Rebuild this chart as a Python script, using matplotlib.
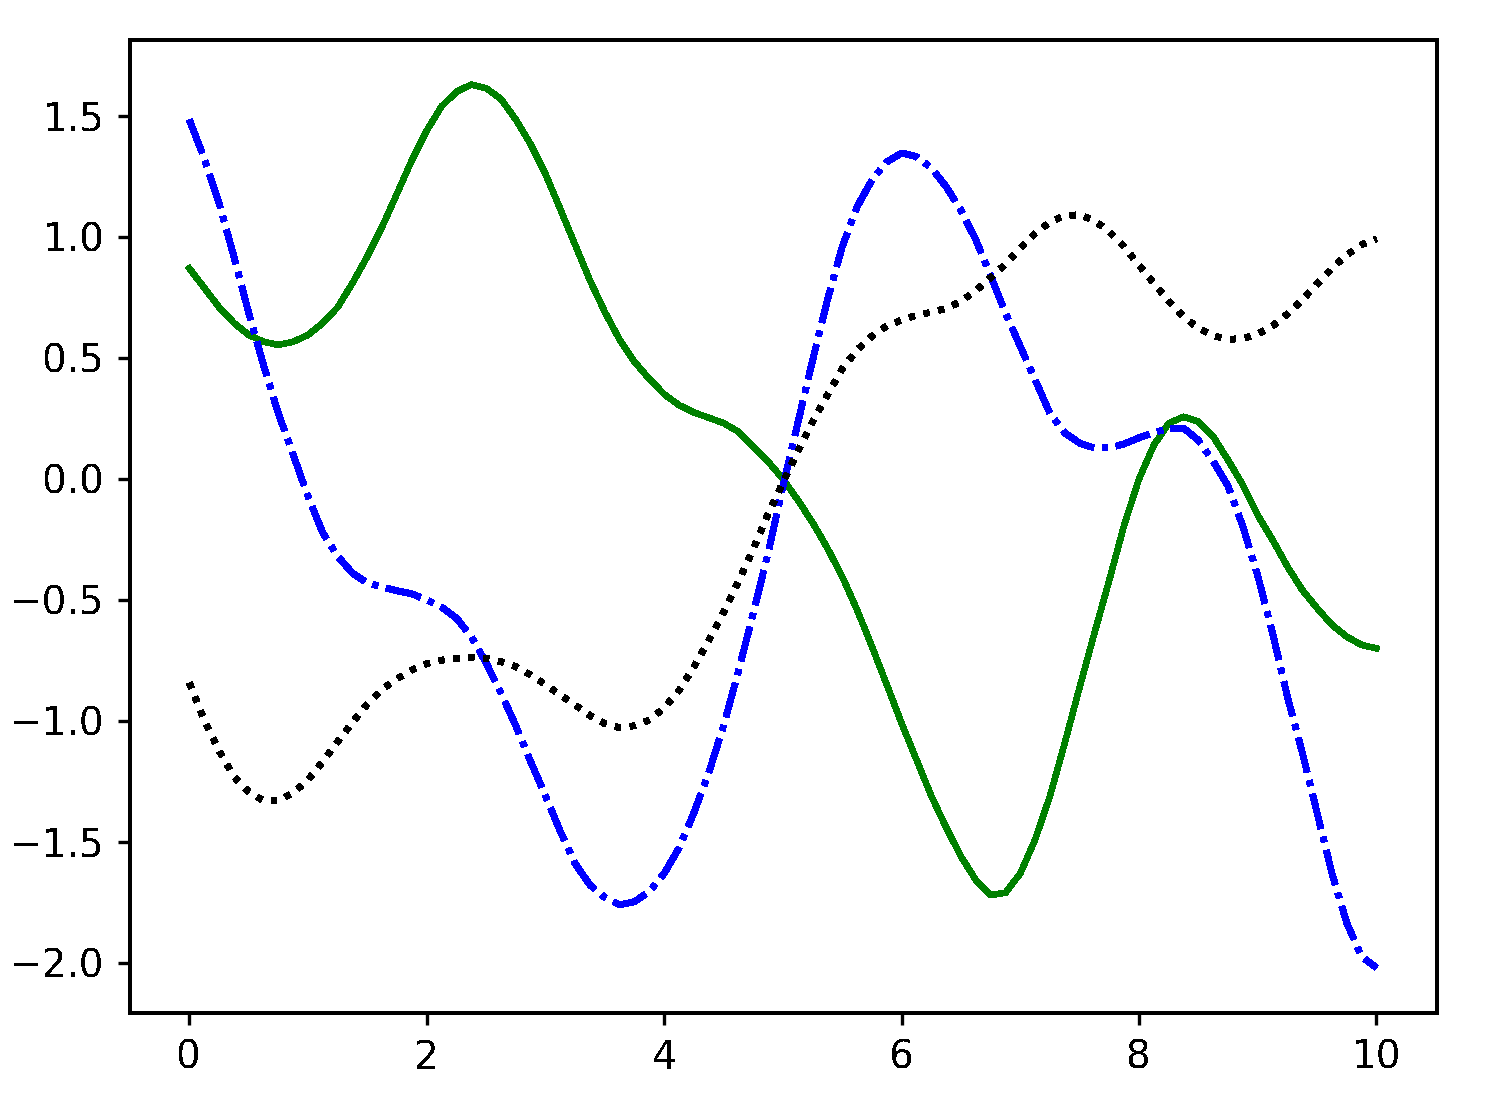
import matplotlib
matplotlib.use("Agg")
import matplotlib.pyplot as plt

# sample positions along x, every 0.125
X = [0.0, 0.125, 0.25, 0.375, 0.5, 0.625, 0.75, 0.875,
     1.0, 1.125, 1.25, 1.375, 1.5, 1.625, 1.75, 1.875,
     2.0, 2.125, 2.25, 2.375, 2.5, 2.625, 2.75, 2.875,
     3.0, 3.125, 3.25, 3.375, 3.5, 3.625, 3.75, 3.875,
     4.0, 4.125, 4.25, 4.375, 4.5, 4.625, 4.75, 4.875,
     5.0, 5.125, 5.25, 5.375, 5.5, 5.625, 5.75, 5.875,
     6.0, 6.125, 6.25, 6.375, 6.5, 6.625, 6.75, 6.875,
     7.0, 7.125, 7.25, 7.375, 7.5, 7.625, 7.75, 7.875,
     8.0, 8.125, 8.25, 8.375, 8.5, 8.625, 8.75, 8.875,
     9.0, 9.125, 9.25, 9.375, 9.5, 9.625, 9.75, 9.875, 10.0]

GREEN = [0.87, 0.79, 0.71, 0.645, 0.595, 0.567, 0.554, 0.567,
         0.595, 0.645, 0.71, 0.81, 0.92, 1.043, 1.18, 1.318,
         1.44, 1.54, 1.60, 1.63, 1.615, 1.57, 1.485, 1.383,
         1.26, 1.115, 0.967, 0.82, 0.69, 0.575, 0.484, 0.413,
         0.35, 0.305, 0.275, 0.253, 0.231, 0.195, 0.134, 0.072,
         0.0, -0.087, -0.18, -0.286, -0.404, -0.541, -0.693, -0.85,
         -1.01, -1.16, -1.31, -1.44, -1.56, -1.657, -1.72, -1.71,
         -1.63, -1.49, -1.31, -1.09, -0.86, -0.636, -0.417, -0.19,
         0.0, 0.14, 0.23, 0.257, 0.237, 0.175, 0.078, -0.025,
         -0.15, -0.252, -0.362, -0.459, -0.534, -0.603, -0.652, -0.686, -0.70]

BLUE = [1.484, 1.326, 1.14, 0.92, 0.686, 0.47, 0.27, 0.10,
        -0.073, -0.224, -0.32, -0.39, -0.43, -0.447, -0.462, -0.475,
        -0.50, -0.53, -0.575, -0.652, -0.76, -0.885, -1.02, -1.168,
        -1.31, -1.457, -1.59, -1.678, -1.73, -1.76, -1.747, -1.705,
        -1.63, -1.525, -1.38, -1.215, -1.02, -0.796, -0.554, -0.307,
        -0.03, 0.23, 0.49, 0.74, 0.96, 1.125, 1.235, 1.31,
        1.347, 1.332, 1.285, 1.208, 1.11, 0.988, 0.84, 0.686,
        0.547, 0.41, 0.27, 0.19, 0.148, 0.128, 0.128, 0.145,
        0.17, 0.191, 0.21, 0.21, 0.16, 0.072, -0.03, -0.197,
        -0.40, -0.637, -0.90, -1.13, -1.38, -1.63, -1.835, -1.974, -2.02]

BLACK = [-0.843, -0.996, -1.123, -1.23, -1.293, -1.33, -1.33, -1.296,
         -1.244, -1.167, -1.085, -1.005, -0.93, -0.869, -0.826, -0.789,
         -0.763, -0.749, -0.741, -0.738, -0.741, -0.755, -0.776, -0.81,
         -0.85, -0.893, -0.934, -0.978, -1.011, -1.028, -1.02, -0.996,
         -0.946, -0.874, -0.777, -0.668, -0.552, -0.424, -0.29, -0.145,
         -0.015, 0.113, 0.237, 0.347, 0.455, 0.533, 0.59, 0.632,
         0.657, 0.676, 0.689, 0.705, 0.734, 0.778, 0.832, 0.888,
         0.953, 1.015, 1.062, 1.088, 1.092, 1.067, 1.022, 0.96,
         0.883, 0.809, 0.734, 0.671, 0.623, 0.592, 0.577, 0.58,
         0.599, 0.632, 0.682, 0.74, 0.806, 0.871, 0.926, 0.968, 0.992]

plt.rcParams["font.family"] = ["DejaVu Sans"]
plt.rcParams["font.size"] = 14
plt.rcParams["lines.antialiased"] = False
plt.rcParams["text.antialiased"] = False
plt.rcParams["patch.antialiased"] = False

fig = plt.figure(figsize=(7.44, 5.5), dpi=200)
ax = fig.add_axes([130 / 1488, 87 / 1100, 1307 / 1488, 973 / 1100])

ax.plot(X, GREEN, color="green", linestyle="-", linewidth=2.0)
ax.plot(X, BLUE, color="blue", linestyle="-.", linewidth=2.0)
ax.plot(X, BLACK, color="black", linestyle=":", linewidth=2.0)

ax.set_xlim(-0.5, 10.51)
ax.set_ylim(-2.207, 1.814)
ax.set_xticks([0, 2, 4, 6, 8, 10])
ax.set_yticks([-2.0, -1.5, -1.0, -0.5, 0.0, 0.5, 1.0, 1.5])
ax.tick_params(length=4.2, width=1.2, pad=5)
for sp in ax.spines.values():
    sp.set_linewidth(1.3)

fig.savefig("out.png", dpi=200)
